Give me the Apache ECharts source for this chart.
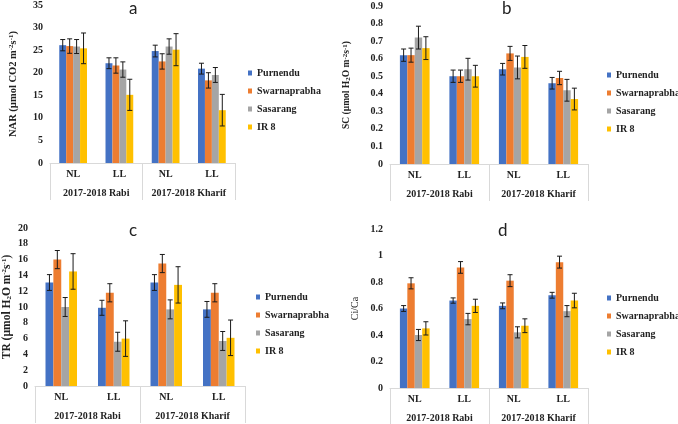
<!DOCTYPE html>
<html>
<head>
<meta charset="utf-8">
<script src="https://cdn.jsdelivr.net/npm/echarts@6/dist/echarts.min.js"></script>
<style>
  html, body { margin: 0; padding: 0; background: #fff; }
  #chart { width: 678px; height: 424px; }
</style>
</head>
<body>
<div id="chart"></div>
<script>
// ---------- data ----------
const categories = ['NL', 'LL', 'NL', 'LL']
const seasons = ['2017-2018 Rabi', '2017-2018 Kharif']
const varieties = ['Purnendu', 'Swarnaprabha', 'Sasarang', 'IR 8']

// rows = variety, cols = NL Rabi, LL Rabi, NL Kharif, LL Kharif
const narMean = [[26.1, 22.1, 24.8, 20.9], [25.9, 21.6, 22.5, 18.3], [25.8, 20.7, 25.8, 19.5], [25.4, 15.1, 25.1, 11.7]]
const narErr = [[1.25, 1.2, 1.3, 1.2], [1.6, 1.7, 1.7, 1.7], [1.55, 1.7, 1.7, 1.65], [3.4, 3.45, 3.55, 3.5]]

const scMean = [[0.62, 0.50, 0.54, 0.46], [0.62, 0.50, 0.63, 0.49], [0.72, 0.54, 0.55, 0.42], [0.66, 0.50, 0.61, 0.37]]
const scErr = [[0.035, 0.035, 0.033, 0.033], [0.04, 0.035, 0.04, 0.038], [0.065, 0.062, 0.065, 0.062], [0.065, 0.062, 0.065, 0.062]]

const trMean = [[13.1, 9.9, 13.1, 9.7], [16.0, 11.8, 15.5, 11.8], [10.0, 5.6, 9.7, 5.7], [14.5, 6.0, 12.8, 6.1]]
const trErr = [[1.0, 0.95, 1.0, 1.0], [1.15, 1.15, 1.15, 1.15], [1.2, 1.2, 1.2, 1.2], [2.25, 2.25, 2.3, 2.25]]

const ciMean = [[0.60, 0.66, 0.62, 0.70], [0.79, 0.91, 0.81, 0.95], [0.40, 0.52, 0.42, 0.58], [0.45, 0.62, 0.47, 0.66]]
const ciErr = [[0.022, 0.02, 0.022, 0.022], [0.042, 0.044, 0.045, 0.045], [0.042, 0.043, 0.042, 0.042], [0.05, 0.05, 0.052, 0.055]]

// ---------- styles / layout ----------
const COLORS = ['#4472C4', '#ED7D31', '#A5A5A5', '#FFC000']
const SERIF = '"Liberation Serif", "DejaVu Serif", serif'
const AXIS_GRAY = '#d9d9d9'
const GAP_RATIO = 0.4

const sup = { fontSize: 7, verticalAlign: 'top', fontFamily: SERIF, fontWeight: 'bold', color: '#222' }
const sub = { fontSize: 7, verticalAlign: 'bottom', fontFamily: SERIF, fontWeight: 'bold', color: '#222' }

const panels = [
  {
    title: 'a', mean: narMean, err: narErr, max: 35, interval: 5,
    grid: { left: 50, top: 4, width: 185, height: 159 },
    name: '{b|NAR (µmol CO2 m}{sup|-2}{b|s}{sup|-1}{b|)}', nameGap: 31, nameSize: 10.5, nameBold: true,
    legend: { left: 248, top: 67 }, titlePos: { left: 129, top: 0 },
  },
  {
    title: 'b', mean: scMean, err: scErr, max: 0.9, interval: 0.1,
    grid: { left: 390, top: 6, width: 198, height: 158 },
    name: '{b|SC (µmol H}{sub|2}{b|O m}{sup|-2}{b|s}{sup|-1}{b|)}', nameGap: 38, nameSize: 9.5, nameBold: true,
    legend: { left: 607, top: 69 }, titlePos: { left: 502, top: 0 },
  },
  {
    title: 'c', mean: trMean, err: trErr, max: 20, interval: 2,
    grid: { left: 33, top: 228, width: 212, height: 158 },
    name: '{b|TR (µmol H}{sub|2}{b|O m}{sup|-2}{b|s}{sup|-1}{b|)}', nameGap: 22, nameSize: 11.5, nameBold: true,
    legend: { left: 256, top: 291 }, titlePos: { left: 129, top: 222 },
  },
  {
    title: 'd', mean: ciMean, err: ciErr, max: 1.2, interval: 0.2,
    grid: { left: 390, top: 229, width: 198, height: 159 },
    name: 'Ci/Ca', nameGap: 30, nameSize: 10, nameBold: false,
    legend: { left: 607, top: 292 }, titlePos: { left: 498, top: 222 },
  },
]

/** error bar renderer for the bar in slot `slot` of each category */
function errorBar(slot) {
  return function (params, api) {
    const cat = api.value(0)
    const v = api.value(1)
    const e = api.value(2)
    const band = api.size([1, 0])[0]
    const bw = band * (1 - GAP_RATIO) / varieties.length
    const x = api.coord([cat, v])[0] + (slot - (varieties.length - 1) / 2) * bw
    const yt = api.coord([cat, v + e])[1]
    const yb = api.coord([cat, v - e])[1]
    const cap = 2.5
    const st = { stroke: '#1a1a1a', lineWidth: 1 }
    return {
      type: 'group',
      children: [
        { type: 'line', shape: { x1: x, y1: yt, x2: x, y2: yb }, style: st },
        { type: 'line', shape: { x1: x - cap, y1: yt, x2: x + cap, y2: yt }, style: st },
        { type: 'line', shape: { x1: x - cap, y1: yb, x2: x + cap, y2: yb }, style: st },
      ],
    }
  }
}

const labelStyle = { fontFamily: SERIF, fontWeight: 'bold', fontSize: 10, color: '#222' }

const option = {
  animation: false,
  backgroundColor: '#fff',
  title: panels.map(p => ({
    text: p.title, left: p.titlePos.left, top: p.titlePos.top, padding: 0,
    textStyle: { fontFamily: 'Lato, "Open Sans", sans-serif', fontWeight: 'normal', fontSize: 17, color: '#222' },
  })),
  grid: panels.map(p => ({ ...p.grid })),
  legend: panels.map(p => ({
    data: varieties, orient: 'vertical', left: p.legend.left, top: p.legend.top,
    icon: 'rect', itemWidth: 4, itemHeight: 5, itemGap: 6, padding: 0, selectedMode: false,
    textStyle: { ...labelStyle, lineHeight: 12, width: 70, overflow: 'none' },
  })),
  xAxis: [
    ...panels.map((p, i) => ({
      type: 'category', gridIndex: i, data: categories, position: 'bottom',
      axisLine: { show: true, lineStyle: { color: AXIS_GRAY, width: 1 } },
      axisTick: { show: false },
      axisLabel: { ...labelStyle, margin: 6, interval: 0 },
    })),
    ...panels.map((p, i) => ({
      type: 'category', gridIndex: i, data: seasons, position: 'bottom', offset: 0,
      axisLine: { show: false },
      axisTick: { show: true, length: 37, interval: 0, lineStyle: { color: AXIS_GRAY, width: 1 } },
      axisLabel: { ...labelStyle, margin: 25, interval: 0 },
    })),
  ],
  yAxis: panels.map((p, i) => ({
    type: 'value', gridIndex: i, min: 0, max: p.max, interval: p.interval,
    axisLine: { show: false }, axisTick: { show: false }, splitLine: { show: false },
    axisLabel: { ...labelStyle, margin: 7 },
    name: p.name, nameLocation: 'middle', nameRotate: 90, nameGap: p.nameGap,
    nameTextStyle: {
      fontFamily: SERIF, fontWeight: p.nameBold ? 'bold' : 'normal', fontSize: p.nameSize, color: '#222',
      rich: {
        b: { fontFamily: SERIF, fontWeight: 'bold', fontSize: p.nameSize, color: '#222' },
        sup, sub,
      },
    },
  })),
  series: [],
}

panels.forEach((p, i) => {
  varieties.forEach((name, k) => {
    option.series.push({
      name, type: 'bar', xAxisIndex: i, yAxisIndex: i,
      data: p.mean[k],
      barGap: '0%', barCategoryGap: (GAP_RATIO * 100) + '%',
      itemStyle: { color: COLORS[k] },
    })
  })
  varieties.forEach((name, k) => {
    option.series.push({
      name: `err-${p.title}-${k}`, type: 'custom', xAxisIndex: i, yAxisIndex: i,
      renderItem: errorBar(k), z: 10,
      encode: { x: 0, y: 1 },
      data: p.mean[k].map((v, c) => [c, v, p.err[k][c]]),
    })
  })
})

const chart = echarts.init(document.getElementById('chart'))
chart.setOption(option)
</script>
</body>
</html>
